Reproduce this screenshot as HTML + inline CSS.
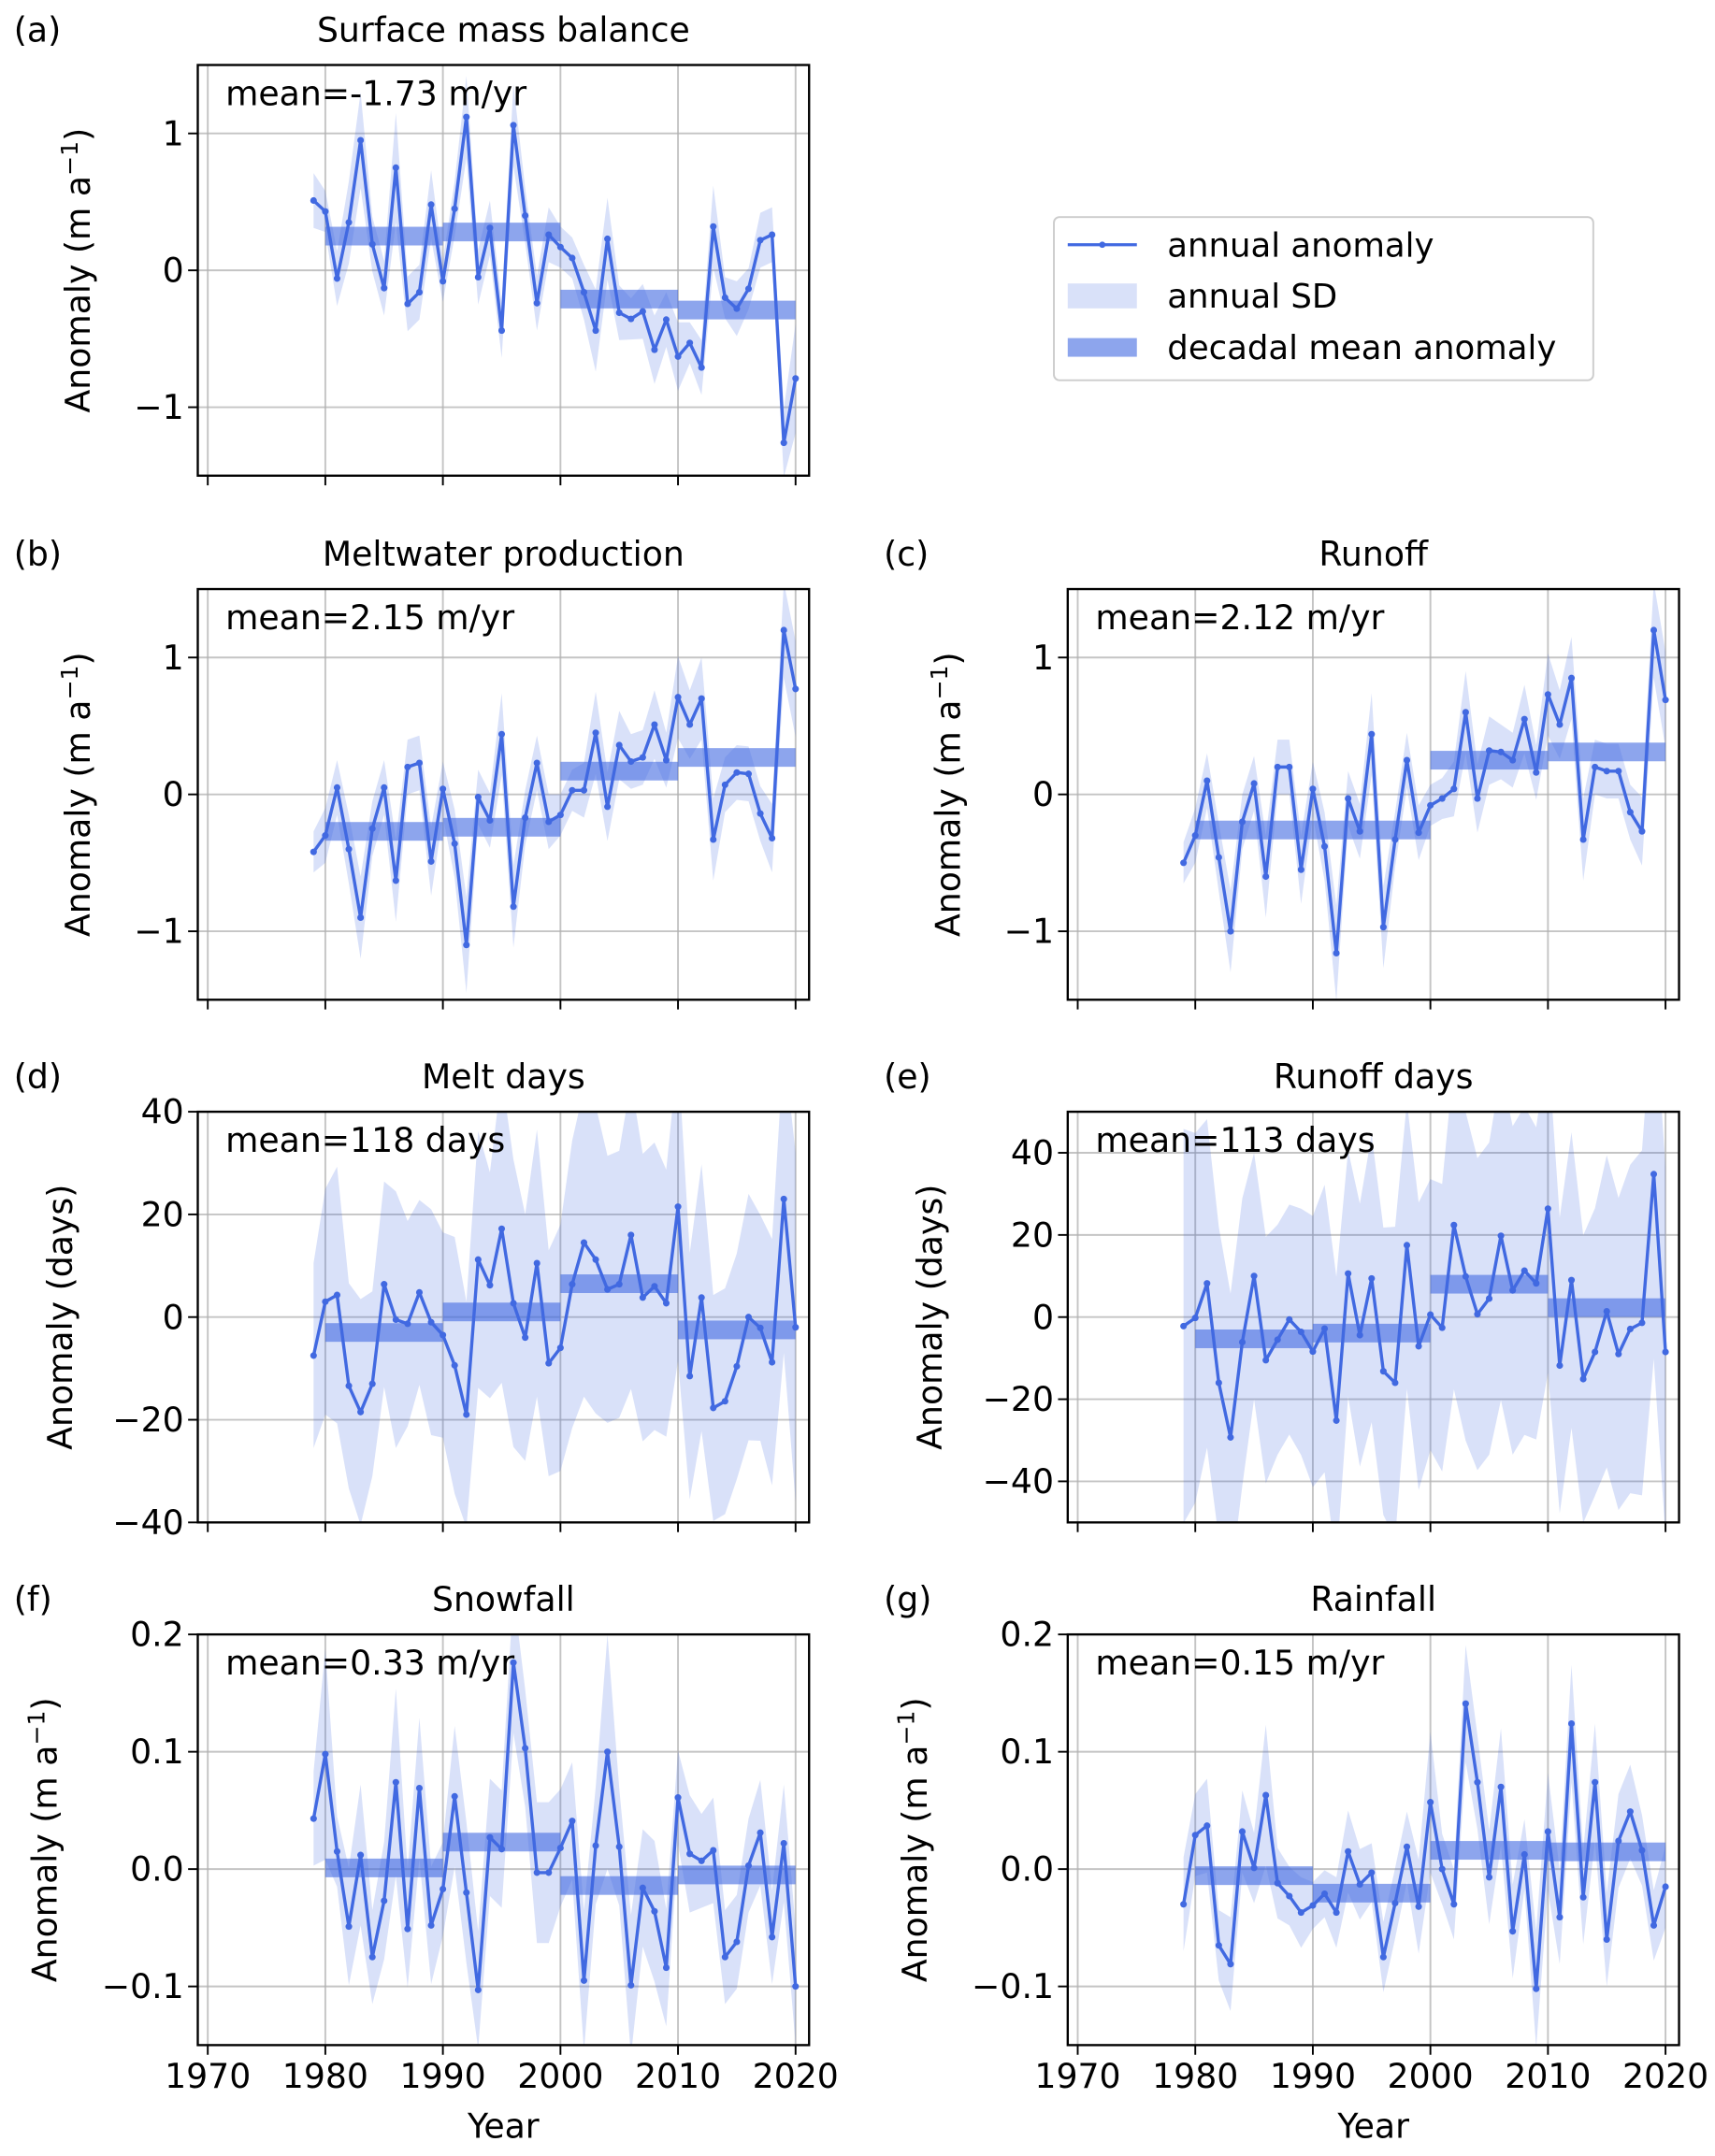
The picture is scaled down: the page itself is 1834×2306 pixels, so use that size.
<!DOCTYPE html>
<html><head><meta charset="utf-8"><style>
html,body{margin:0;padding:0;background:#fff;}
svg{display:block;font-family:"DejaVu Sans","Liberation Sans",sans-serif;}
</style></head><body>
<svg id="fig" width="1834" height="2306" viewBox="0 0 1240 1559.2" preserveAspectRatio="none" xmlns="http://www.w3.org/2000/svg">
<rect x="0" y="0" width="1240" height="1559.2" fill="#fff"/>
<g>
<rect x="762" y="157" width="390" height="118" rx="4" fill="#fff" stroke="#cccccc" stroke-width="1.3"/>
<line x1="772" y1="177" x2="822" y2="177" stroke="#4169E1" stroke-width="2.2"/>
<circle cx="797" cy="177" r="2.3" fill="#4169E1"/>
<text x="844" y="185.5" font-size="24">annual anomaly</text>
<rect x="772" y="205" width="50" height="18" fill="#4169E1" fill-opacity="0.2"/>
<text x="844" y="222.5" font-size="24">annual SD</text>
<rect x="772" y="244.5" width="50" height="13.5" fill="#4169E1" fill-opacity="0.6"/>
<text x="844" y="259.5" font-size="24">decadal mean anomaly</text>
</g>
</svg>
<script>
const years = [1979,1980,1981,1982,1983,1984,1985,1986,1987,1988,1989,1990,1991,1992,1993,1994,1995,1996,1997,1998,1999,2000,2001,2002,2003,2004,2005,2006,2007,2008,2009,2010,2011,2012,2013,2014,2015,2016,2017,2018,2019,2020];
const decades = [1980,1990,2000,2010];

const smbValues = [0.51,0.43,-0.06,0.35,0.95,0.19,-0.13,0.75,-0.245,-0.16,0.48,-0.08,0.45,1.12,-0.05,0.31,-0.44,1.06,0.40,-0.24,0.26,0.17,0.09,-0.16,-0.44,0.23,-0.31,-0.355,-0.30,-0.58,-0.36,-0.63,-0.53,-0.71,0.32,-0.20,-0.28,-0.135,0.22,0.26,-1.26,-0.79];
const smbSD = [0.2,0.15,0.2,0.3,0.35,0.2,0.2,0.4,0.2,0.2,0.25,0.15,0.2,0.3,0.2,0.2,0.2,0.3,0.2,0.2,0.2,0.15,0.15,0.2,0.3,0.3,0.2,0.15,0.2,0.25,0.2,0.25,0.15,0.2,0.3,0.15,0.2,0.15,0.2,0.2,0.25,0.4];
const smbDecadal = [0.25,0.28,-0.21,-0.29];

const meltValues = [-0.42,-0.3,0.05,-0.4,-0.9,-0.25,0.05,-0.63,0.2,0.23,-0.49,0.04,-0.36,-1.1,-0.02,-0.19,0.44,-0.82,-0.17,0.23,-0.2,-0.15,0.03,0.03,0.45,-0.09,0.36,0.24,0.27,0.51,0.25,0.71,0.51,0.7,-0.33,0.07,0.16,0.15,-0.14,-0.32,1.2,0.77];
const meltSD = [0.15,0.2,0.2,0.25,0.3,0.2,0.2,0.3,0.2,0.2,0.25,0.2,0.25,0.35,0.2,0.2,0.3,0.3,0.2,0.2,0.2,0.15,0.15,0.2,0.3,0.25,0.25,0.2,0.2,0.25,0.2,0.3,0.25,0.3,0.3,0.2,0.2,0.2,0.2,0.25,0.35,0.35];
const meltDecadal = [-0.27,-0.24,0.17,0.27];

const runoffValues = [-0.5,-0.3,0.1,-0.46,-1.0,-0.2,0.08,-0.6,0.2,0.2,-0.55,0.04,-0.38,-1.16,-0.03,-0.27,0.44,-0.97,-0.33,0.25,-0.28,-0.08,-0.03,0.04,0.6,-0.03,0.32,0.31,0.25,0.55,0.16,0.73,0.51,0.85,-0.33,0.2,0.17,0.17,-0.13,-0.27,1.2,0.69];
const runoffSD = [0.15,0.2,0.2,0.25,0.3,0.2,0.2,0.3,0.2,0.2,0.25,0.2,0.25,0.35,0.2,0.2,0.3,0.3,0.2,0.2,0.2,0.15,0.15,0.2,0.3,0.25,0.25,0.2,0.2,0.25,0.2,0.3,0.25,0.3,0.3,0.2,0.2,0.2,0.2,0.25,0.35,0.35];
const runoffDecadal = [-0.26,-0.26,0.25,0.31];

const meltDaysValues = [-7.5,3,4.3,-13.4,-18.5,-13,6.4,-0.5,-1.3,4.8,-1,-3.5,-9.4,-19,11.2,6.2,17.2,2.7,-4,10.5,-9,-6,6.4,14.5,11.2,5.4,6.4,16,3.8,6,2.7,21.5,-11.5,3.8,-17.7,-16.4,-9.6,0,-2.1,-8.8,23,-2];
const meltDaysSD = [18,22,25,20,22,18,20,25,20,18,22,20,25,22,25,22,30,28,24,26,22,24,28,30,30,26,26,30,28,28,26,30,24,26,22,22,22,24,22,24,30,34];
const meltDaysDecadal = [-3,1,6.5,-2.5];

const runoffDaysValues = [-2.2,-0.2,8.2,-16,-29.3,-6.1,10,-10.5,-5.5,-0.6,-3.6,-8.4,-2.8,-25.2,10.6,-4.4,9.4,-13.2,-16,17.5,-7.1,0.6,-2.6,22.4,9.9,0.7,4.5,19.8,6.5,11.3,8.2,26.4,-11.8,9,-15.1,-8.5,1.4,-9,-2.9,-1.4,34.8,-8.5];
const runoffDaysSD = [48,45,40,38,35,35,30,30,28,28,30,33,35,35,30,32,35,35,38,35,35,33,35,40,40,38,38,40,40,40,38,40,36,36,35,35,38,38,40,42,45,45];
const runoffDaysDecadal = [-5.3,-3.9,8,2.3];

const snowValues = [0.043,0.098,0.015,-0.049,0.012,-0.075,-0.027,0.074,-0.051,0.069,-0.048,-0.017,0.062,-0.02,-0.103,0.027,0.017,0.176,0.103,-0.003,-0.003,0.018,0.041,-0.095,0.02,0.1,0.019,-0.099,-0.016,-0.036,-0.084,0.061,0.013,0.007,0.016,-0.075,-0.062,0.003,0.031,-0.058,0.022,-0.1];
const snowSD = [0.04,0.09,0.03,0.05,0.06,0.04,0.05,0.08,0.05,0.06,0.05,0.04,0.06,0.06,0.05,0.05,0.05,0.06,0.05,0.06,0.06,0.05,0.05,0.06,0.05,0.1,0.05,0.06,0.05,0.06,0.05,0.04,0.05,0.04,0.045,0.04,0.04,0.04,0.045,0.04,0.05,0.05];
const snowDecadal = [0.001,0.023,-0.014,-0.005];

const rainValues = [-0.030,0.029,0.037,-0.065,-0.081,0.032,0.001,0.063,-0.012,-0.023,-0.037,-0.031,-0.021,-0.037,0.015,-0.013,-0.003,-0.075,-0.029,0.019,-0.032,0.057,0.0,-0.030,0.141,0.074,-0.007,0.070,-0.053,0.0125,-0.102,0.032,-0.041,0.124,-0.024,0.074,-0.060,0.024,0.049,0.016,-0.048,-0.015];
const rainSD = [0.04,0.035,0.04,0.03,0.04,0.035,0.03,0.06,0.03,0.025,0.03,0.02,0.02,0.03,0.035,0.03,0.025,0.03,0.03,0.03,0.04,0.06,0.03,0.03,0.05,0.04,0.04,0.05,0.04,0.03,0.05,0.05,0.04,0.05,0.04,0.05,0.04,0.04,0.04,0.03,0.03,0.035];
const rainDecadal = [-0.0056,-0.0205,0.016,0.0147];

const panels = [
 {id:'a',title:'Surface mass balance',mean:'mean=-1.73 m/yr',v:smbValues,sd:smbSD,dec:smbDecadal,col:0,row:0,ymin:-1.5,ymax:1.5,ticks:[-1,0,1],lab:['−1','0','1'],unit:'m',ylx:57},
 {id:'b',title:'Meltwater production',mean:'mean=2.15 m/yr',v:meltValues,sd:meltSD,dec:meltDecadal,col:0,row:1,ymin:-1.5,ymax:1.5,ticks:[-1,0,1],lab:['−1','0','1'],unit:'m',ylx:57},
 {id:'c',title:'Runoff',mean:'mean=2.12 m/yr',v:runoffValues,sd:runoffSD,dec:runoffDecadal,col:1,row:1,ymin:-1.5,ymax:1.5,ticks:[-1,0,1],lab:['−1','0','1'],unit:'m',ylx:686},
 {id:'d',title:'Melt days',mean:'mean=118 days',v:meltDaysValues,sd:meltDaysSD,dec:meltDaysDecadal,col:0,row:2,ymin:-40,ymax:40,ticks:[-40,-20,0,20,40],lab:['−40','−20','0','20','40'],unit:'d',ylx:44},
 {id:'e',title:'Runoff days',mean:'mean=113 days',v:runoffDaysValues,sd:runoffDaysSD,dec:runoffDaysDecadal,col:1,row:2,ymin:-50,ymax:50,ticks:[-40,-20,0,20,40],lab:['−40','−20','0','20','40'],unit:'d',ylx:673},
 {id:'f',title:'Snowfall',mean:'mean=0.33 m/yr',v:snowValues,sd:snowSD,dec:snowDecadal,col:0,row:3,ymin:-0.15,ymax:0.2,ticks:[-0.1,0,0.1,0.2],lab:['−0.1','0.0','0.1','0.2'],unit:'m',ylx:33},
 {id:'g',title:'Rainfall',mean:'mean=0.15 m/yr',v:rainValues,sd:rainSD,dec:rainDecadal,col:1,row:3,ymin:-0.15,ymax:0.2,ticks:[-0.1,0,0.1,0.2],lab:['−0.1','0.0','0.1','0.2'],unit:'m',ylx:662}
];
const xTicks = [1970,1980,1990,2000,2010,2020];

const NS='http://www.w3.org/2000/svg';
const svg=document.getElementById('fig');
function mk(tag,attrs,parent){const e=document.createElementNS(NS,tag);for(const k in attrs)e.setAttribute(k,attrs[k]);(parent||svg).appendChild(e);return e;}
const colX=[143,772], AW=442, rowY=[47,426,804,1182], AH=297;
const XMIN=1969.15, XMAX=2021.15;
const C='#4169E1';
const FS=24.5;

panels.forEach(p=>{
  const x0=colX[p.col], y0=rowY[p.row];
  const sx=v=>x0+(v-XMIN)/(XMAX-XMIN)*AW;
  const sy=v=>y0+AH-(v-p.ymin)/(p.ymax-p.ymin)*AH;
  const g=mk('g',{});
  
  
  const clip=mk('clipPath',{id:'clip'+p.id},g);
  mk('rect',{x:x0,y:y0,width:AW,height:AH},clip);
  xTicks.forEach(t=>{const l=mk('line',{x1:sx(t),x2:sx(t),y1:y0,y2:y0+AH,stroke:'#b0b0b0','stroke-opacity':0.75,'stroke-width':1.3},g);
    });
  p.ticks.forEach(t=>{const l=mk('line',{x1:x0,x2:x0+AW,y1:sy(t),y2:sy(t),stroke:'#b0b0b0','stroke-opacity':0.75,'stroke-width':1.3},g);
    });
  const cg=mk('g',{'clip-path':'url(#clip'+p.id+')'},g);
  let up=[],lo=[];
  years.forEach((y,i)=>{up.push(sx(y)+','+sy(p.v[i]+p.sd[i]));lo.unshift(sx(y)+','+sy(p.v[i]-p.sd[i]));});
  const band=mk('polygon',{points:up.concat(lo).join(' '),fill:C,'fill-opacity':0.2,stroke:'none'},cg);
  
  
  decades.forEach((d,i)=>{
    const r=mk('rect',{x:sx(d),y:sy(p.dec[i])-6.75,width:sx(d+10)-sx(d),height:13.5,fill:C,'fill-opacity':0.6},cg);
    
    
  });
  const pl=mk('polyline',{points:years.map((y,i)=>sx(y)+','+sy(p.v[i])).join(' '),fill:'none',stroke:C,'stroke-width':2.3,'stroke-linejoin':'round'},cg);
  
  
  years.forEach((y,i)=>{const c=mk('circle',{cx:sx(y),cy:sy(p.v[i]),r:2.4,fill:C},cg);
    });
  const fr=mk('rect',{x:x0,y:y0,width:AW,height:AH,fill:'none',stroke:'#000','stroke-width':1.6},g);
  
  
  xTicks.forEach(t=>{mk('line',{x1:sx(t),x2:sx(t),y1:y0+AH,y2:y0+AH+7,stroke:'#000','stroke-width':1.3},g);
    if(p.row===3){const tx=mk('text',{x:sx(t),y:y0+AH+31,'font-size':FS,'text-anchor':'middle'},g);tx.textContent=t;
      }});
  p.ticks.forEach((t,i)=>{mk('line',{x1:x0-7,x2:x0,y1:sy(t),y2:sy(t),stroke:'#000','stroke-width':1.3},g);
    const tx=mk('text',{x:x0-10,y:sy(t)+8.5,'font-size':FS,'text-anchor':'end'},g);tx.textContent=p.lab[i];
    });
  const ti=mk('text',{x:x0+AW/2,y:y0-17,'font-size':FS,'text-anchor':'middle'},g);ti.textContent=p.title;
  
  const le=mk('text',{x:colX[p.col]-133,y:y0-17,'font-size':FS},g);le.textContent='('+p.id+')';
  
  const mt=mk('text',{x:x0+20,y:y0+29,'font-size':FS},g);mt.textContent=p.mean;
  
  const yl=mk('text',{x:0,y:0,'font-size':FS,'text-anchor':'middle',transform:'translate('+(p.ylx+8)+','+(y0+AH/2)+') rotate(-90)'},g);
  
  if(p.unit==='d'){yl.textContent='Anomaly (days)';}
  else{yl.appendChild(document.createTextNode('Anomaly (m a'));
    const s=mk('tspan',{dy:-9,'font-size':17},yl);s.textContent='−1';
    const s2=mk('tspan',{dy:9},yl);s2.textContent=')';}
  if(p.row===3){const xl=mk('text',{x:x0+AW/2,y:1546,'font-size':FS,'text-anchor':'middle'},g);xl.textContent='Year';
    }
});
</script>
</body></html>
